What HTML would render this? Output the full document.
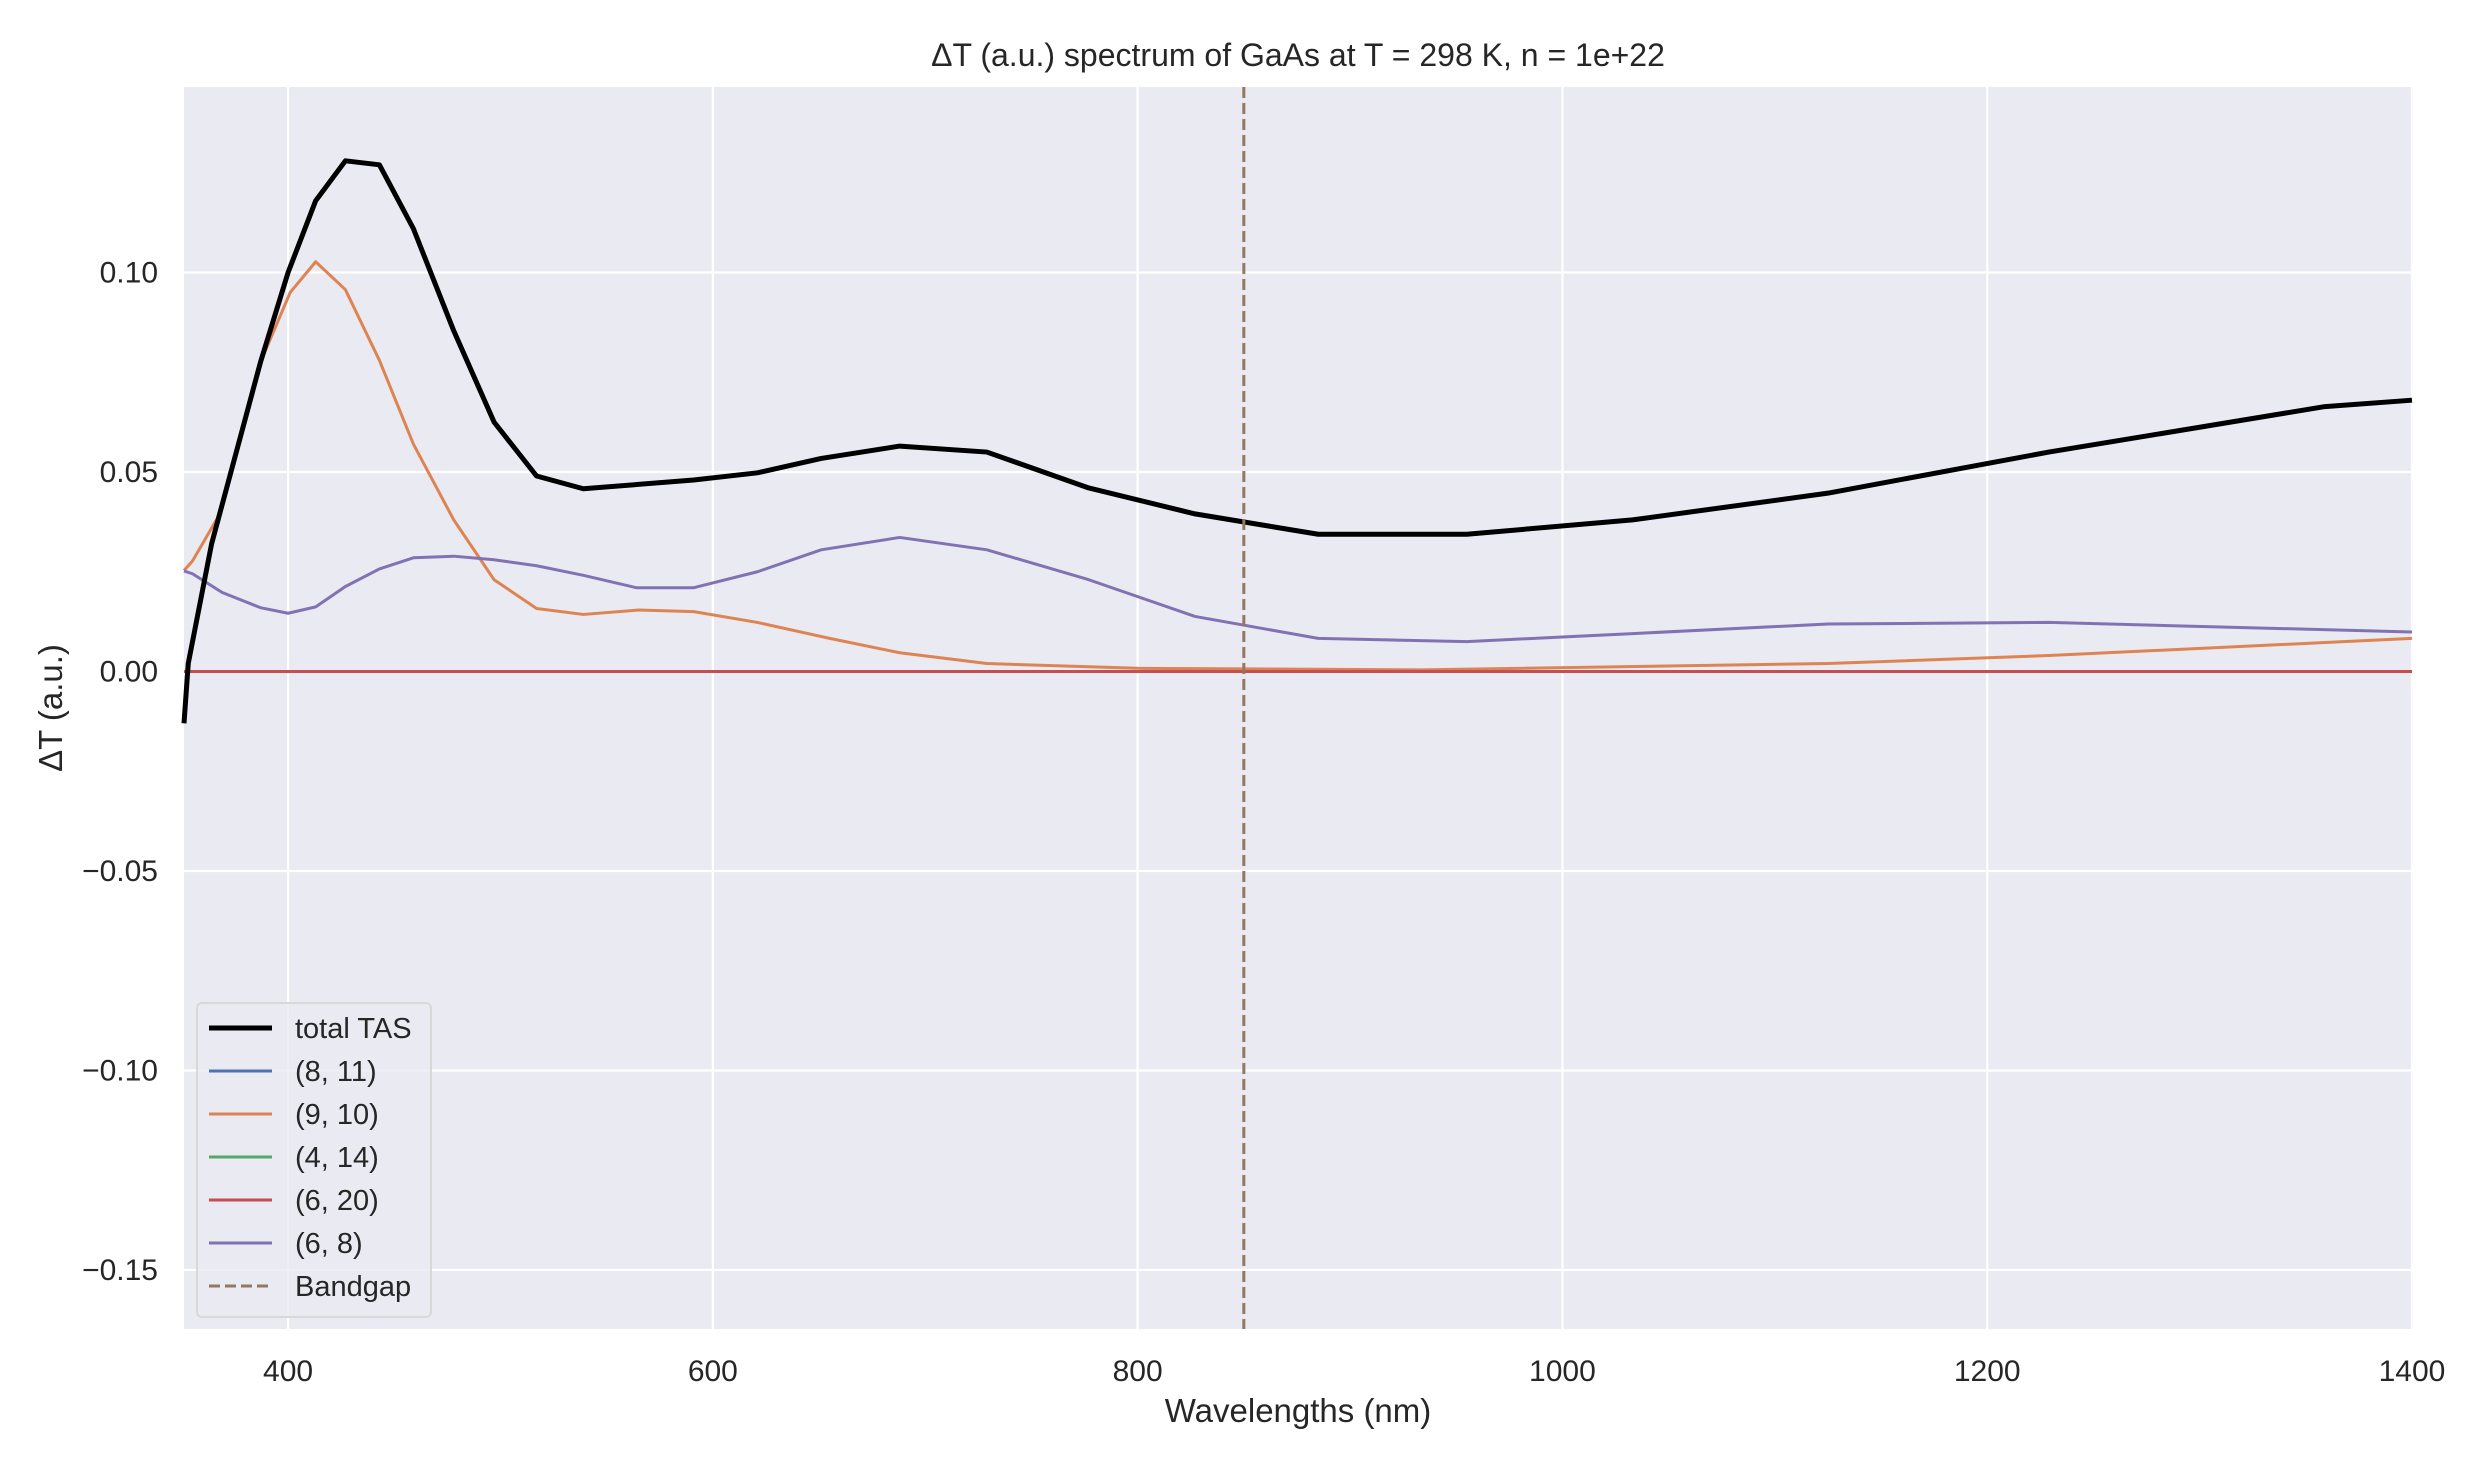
<!DOCTYPE html>
<html><head><meta charset="utf-8"><style>
body{margin:0;background:#fff}
svg{display:block;font-family:"Liberation Sans",sans-serif}
</style></head><body>
<svg id="chart" width="2472" height="1458" viewBox="0 0 2472 1458" xmlns="http://www.w3.org/2000/svg">
<rect x="184" y="87" width="2228" height="1242" fill="#eaeaf2"/>
<g id="grid"></g><g id="ticks"></g><g id="series"></g>
<text x="1298" y="66" font-size="32" text-anchor="middle" fill="#262626">ΔT (a.u.) spectrum of GaAs at T = 298 K, n = 1e+22</text>
<text x="1298" y="1422" font-size="33" text-anchor="middle" fill="#262626">Wavelengths (nm)</text>
<text transform="translate(62,708) rotate(-90)" font-size="33" text-anchor="middle" fill="#262626">ΔT (a.u.)</text>
<g id="legend"></g>
</svg>
<script>
const totalX=[351,353,364,387,400,413,427,443,459,478,497,517,539,591,621,651,688,729,777,827,885,955,1033,1125,1229,1359,1400];
const totalY=[-0.013,0.002,0.032,0.0775,0.100,0.118,0.128,0.127,0.111,0.0854,0.0625,0.049,0.0458,0.048,0.0498,0.0534,0.0565,0.055,0.046,0.0395,0.0344,0.0344,0.038,0.0447,0.055,0.0664,0.068];
const orangeX=[351,355,367,387,401,413,427,443,459,478,497,517,539,565,591,621,655,688,729,800,933,1125,1229,1400];
const orangeY=[0.0253,0.0277,0.0387,0.0775,0.095,0.1027,0.0957,0.078,0.057,0.038,0.023,0.0158,0.0143,0.0154,0.015,0.0123,0.0083,0.0047,0.002,0.0008,0.0004,0.002,0.004,0.0083];
const purpleX=[351,355,369,387,400,413,427,443,459,478,497,517,539,564,591,621,651,688,729,777,827,885,955,1033,1125,1229,1400];
const purpleY=[0.0252,0.0245,0.0198,0.016,0.0146,0.0162,0.0213,0.0257,0.0285,0.0289,0.028,0.0265,0.0241,0.021,0.021,0.025,0.0305,0.0336,0.0305,0.023,0.0138,0.0083,0.0075,0.0095,0.0119,0.0123,0.0099];
const zeroX=[351,1400];
const zeroY=[0,0];
const bandgap=850;
const xTicks=[400,600,800,1000,1200,1400];
const yTicks=[-0.15,-0.10,-0.05,0.00,0.05,0.10];
const yTickLabels=["−0.15","−0.10","−0.05","0.00","0.05","0.10"];
const legendLabels=["total TAS","(8, 11)","(9, 10)","(4, 14)","(6, 20)","(6, 8)","Bandgap"];

const X0=351,X1=1400,L=184,R=2412,Y0=0.1465,Y1=-0.1648,T=87,B=1329;
const sx=v=>L+(v-X0)/(X1-X0)*(R-L);
const sy=v=>T+(Y0-v)/(Y0-Y1)*(B-T);
const NS="http://www.w3.org/2000/svg";
function mk(tag,attrs,parent){const e=document.createElementNS(NS,tag);for(const k in attrs)e.setAttribute(k,attrs[k]);parent.appendChild(e);return e;}
const grid=document.getElementById('grid'),ticks=document.getElementById('ticks'),series=document.getElementById('series'),legend=document.getElementById('legend');
xTicks.forEach(v=>{
 const g=mk('line',{x1:sx(v),x2:sx(v),y1:T,y2:B,stroke:'#fff','stroke-width':2.2},grid);
 
 
 const t=mk('text',{x:sx(v),y:B+52,'font-size':30,'text-anchor':'middle',fill:'#262626'},ticks);
 t.textContent=v;
 
 
});
yTicks.forEach((v,i)=>{
 const g=mk('line',{x1:L,x2:R,y1:sy(v),y2:sy(v),stroke:'#fff','stroke-width':2.2},grid);
 
 
 const t=mk('text',{x:L-26,y:sy(v)+10,'font-size':30,'text-anchor':'end',fill:'#262626'},ticks);
 t.textContent=yTickLabels[i];
 
 
});
function line(xs,ys,color,w,name){
 const p=mk('polyline',{points:xs.map((x,i)=>sx(x)+','+sy(ys[i])).join(' '),fill:'none',stroke:color,'stroke-width':w,'stroke-linejoin':'round'},series);
 
 
}
line(zeroX,zeroY,'#4c72b0',3,'series-8-11');
line(zeroX,zeroY,'#55a868',3,'series-4-14');
line(orangeX,orangeY,'#dd8452',3,'series-9-10');
line(purpleX,purpleY,'#8172b3',3,'series-6-8');
line(zeroX,zeroY,'#c44e52',3,'series-6-20');
line(totalX,totalY,'#000',5,'series-total-tas');
const bg=mk('line',{x1:sx(bandgap),x2:sx(bandgap),y1:T,y2:B,stroke:'#937860','stroke-width':3,'stroke-dasharray':'11,5'},series);


const lb=mk('rect',{x:197,y:1003,width:234,height:314,rx:5,fill:'#eaeaf2','fill-opacity':0.8,stroke:'#d8d8d8','stroke-width':2},legend);


const lc=['#000','#4c72b0','#dd8452','#55a868','#c44e52','#8172b3','#937860'];
legendLabels.forEach((s,i)=>{
 const y=1028+i*43;
 const l=mk('line',{x1:209,x2:272,y1:y,y2:y,stroke:lc[i],'stroke-width':i==0?5:3},legend);
 if(i==6)l.setAttribute('stroke-dasharray','11,5');
 
 
 const t=mk('text',{x:295,y:y+10,'font-size':29,fill:'#262626'},legend);
 t.textContent=s;
 
 
});
</script>
</body></html>
